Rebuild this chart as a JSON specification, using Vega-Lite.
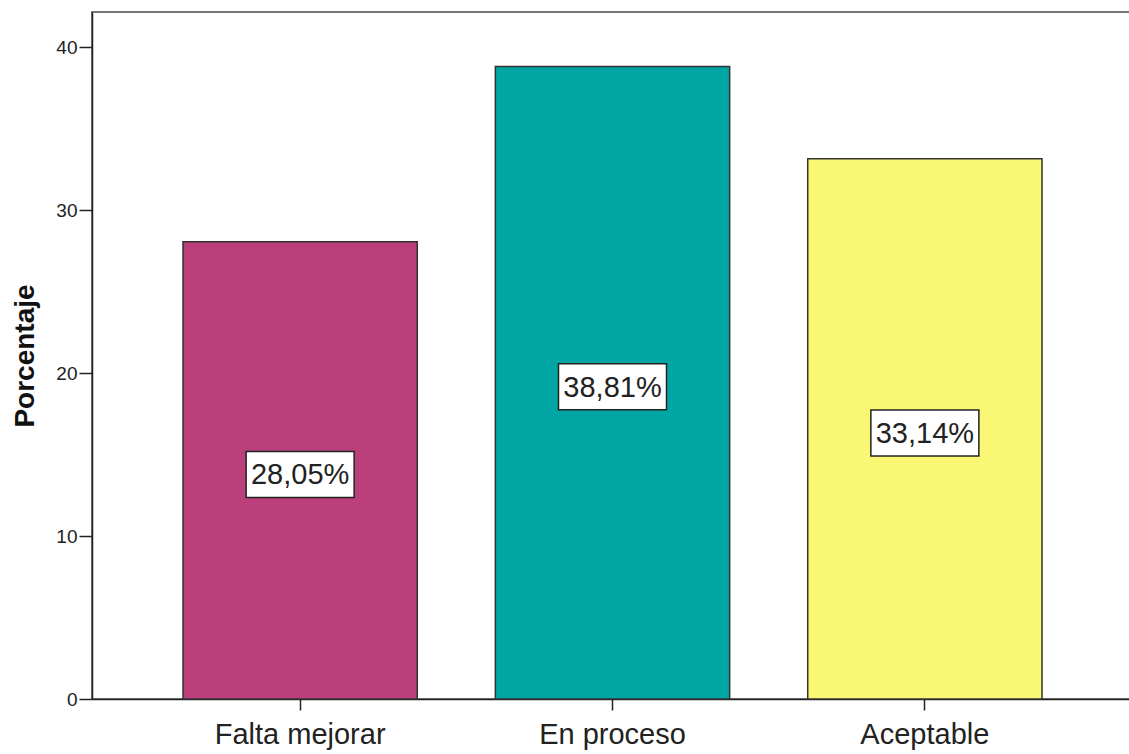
{
  "$schema": "https://vega.github.io/schema/vega-lite/v6.json",
  "width": 1041,
  "height": 687,
  "autosize": {"type": "none"},
  "padding": {"left": 92, "top": 12, "right": 0, "bottom": 55},
  "background": "white",
  "config": {
    "view": {"stroke": "#777", "strokeWidth": 2},
    "font": "Liberation Sans"
  },
  "data": {
    "values": [
      {"categoria": "Falta mejorar", "porcentaje": 28.05, "etiqueta": "28,05%"},
      {"categoria": "En proceso", "porcentaje": 38.81, "etiqueta": "38,81%"},
      {"categoria": "Aceptable", "porcentaje": 33.14, "etiqueta": "33,14%"}
    ]
  },
  "encoding": {
    "x": {
      "field": "categoria",
      "type": "nominal",
      "sort": ["Falta mejorar", "En proceso", "Aceptable"],
      "scale": {"paddingInner": 0.25, "paddingOuter": 0.2913},
      "axis": {
        "title": null,
        "labelAngle": 0,
        "labelFont": "Liberation Sans",
        "labelFontSize": 29,
        "labelColor": "#222",
        "labelPadding": 10,
        "tickSize": 11,
        "tickWidth": 1.5,
        "tickColor": "#222",
        "domainColor": "#222",
        "domainWidth": 1.5
      }
    }
  },
  "layer": [
    {
      "mark": {"type": "bar", "stroke": "#333", "strokeWidth": 1.5},
      "encoding": {
        "y": {
          "field": "porcentaje",
          "type": "quantitative",
          "scale": {"domain": [0, 42.15], "nice": false},
          "axis": {
            "title": "Porcentaje",
            "titleFont": "Liberation Sans",
            "titleFontSize": 28,
            "titleFontWeight": "bold",
            "titleColor": "#111",
            "titlePadding": 16,
            "values": [0, 10, 20, 30, 40],
            "grid": false,
            "labelFont": "Liberation Sans",
            "labelFontSize": 19,
            "labelColor": "#222",
            "labelPadding": 2,
            "tickSize": 13,
            "tickWidth": 1.5,
            "tickColor": "#222",
            "domainColor": "#222",
            "domainWidth": 1.5
          }
        },
        "color": {
          "field": "categoria",
          "type": "nominal",
          "scale": {
            "domain": ["Falta mejorar", "En proceso", "Aceptable"],
            "range": ["#BA3F7B", "#00A6A3", "#FAF775"]
          },
          "legend": null
        }
      }
    },
    {
      "mark": {
        "type": "point",
        "shape": "M-1,-0.426H1V0.426H-1Z",
        "size": 11664,
        "filled": true,
        "fill": "white",
        "stroke": "#222",
        "strokeWidth": 1.5,
        "opacity": 1,
        "yOffset": 4
      },
      "encoding": {
        "y": {
          "field": "porcentaje",
          "type": "quantitative",
          "scale": {"domain": [0, 84.3], "nice": false},
          "axis": null
        }
      }
    },
    {
      "mark": {
        "type": "text",
        "font": "Liberation Sans",
        "fontSize": 29,
        "color": "#222",
        "baseline": "middle",
        "align": "center",
        "yOffset": 5
      },
      "encoding": {
        "y": {
          "field": "porcentaje",
          "type": "quantitative",
          "scale": {"domain": [0, 84.3], "nice": false},
          "axis": null
        },
        "text": {"field": "etiqueta", "type": "nominal"}
      }
    }
  ],
  "resolve": {"scale": {"y": "independent"}}
}
